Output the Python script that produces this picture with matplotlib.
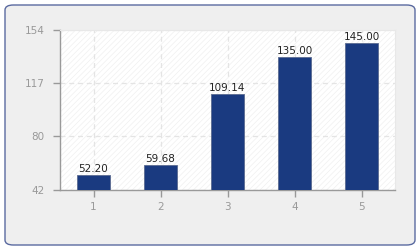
import matplotlib
matplotlib.use("Agg")
import matplotlib.pyplot as plt
from matplotlib.patches import FancyBboxPatch, Rectangle

categories = ["1", "2", "3", "4", "5"]
values = [52.20, 59.68, 109.14, 135.00, 145.00]
yticks = [42, 80, 117, 154]

plt.rcParams['hatch.linewidth'] = 0.5

fig = plt.figure(figsize=(4.2, 2.5), dpi=100, facecolor="white")
box = FancyBboxPatch((5/420, 5/250), 410/420, 240/250,
                     boxstyle="round,pad=0,rounding_size=0.02",
                     transform=fig.transFigure, facecolor="#efefef",
                     edgecolor="#5a6aa0", linewidth=1.0, zorder=-10)
fig.add_artist(box)

ax = fig.add_axes([60/420, 1-190/250, 335/420, 160/250])
ax.set_zorder(1)
ax.set_facecolor("white")
ax.add_patch(Rectangle((0, 0), 1, 1, transform=ax.transAxes, facecolor="none",
                       edgecolor="#f0f0f0", hatch="//////", linewidth=0, zorder=0))

x = list(range(len(categories)))
bars = ax.bar(x, values, width=0.5, color="#1a3a80", edgecolor="#5a6a90",
              linewidth=0.6, zorder=3)
for xi, v in zip(x, values):
    ax.text(xi, v + 0.8, f"{v:.2f}", ha="center", va="bottom", fontsize=7.5,
            color="#222222", zorder=4)

ax.set_xlim(-0.5, 4.5)
ax.set_ylim(42, 154)
ax.set_xticks(x)
ax.set_xticklabels(categories)
ax.set_yticks(yticks)
ax.grid(True, color="#e4e4e4", linestyle=(0, (4, 3)), linewidth=0.9, zorder=1)
ax.set_axisbelow(True)

for s in ["top", "right"]:
    ax.spines[s].set_color("#e8e8e8")
    ax.spines[s].set_linewidth(0.8)
for s in ["left", "bottom"]:
    ax.spines[s].set_color("#999999")
    ax.spines[s].set_linewidth(1.0)

ax.tick_params(axis="both", colors="#999999", labelcolor="#999999",
               labelsize=7.5, length=5, width=1.0, direction="out")
ax.tick_params(axis="y", pad=6)
ax.tick_params(axis="x", pad=4)

fig.savefig("out.png", dpi=100, facecolor="white")
